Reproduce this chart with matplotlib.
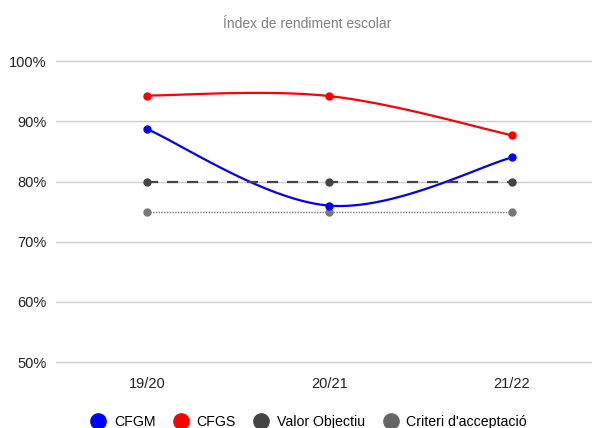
import numpy as np
import matplotlib.pyplot as plt
from matplotlib.lines import Line2D

cursos = ['19/20', '20/21', '21/22']
cfgm = [88.7, 76.0, 84.0]
cfgs = [94.3, 94.2, 87.7]
valor_objectiu = [80, 80, 80]
criteri = [75, 75, 75]

plt.rcParams['font.family'] = ['Liberation Sans', 'DejaVu Sans']


def smooth(x, y, n=40, k=0.35):
    # corba tipus google charts (bezier amb punts de control segons els veins)
    x = np.asarray(x, float)
    y = np.asarray(y, float)
    xs, ys = [], []
    for i in range(len(x) - 1):
        p0 = np.array([x[max(i - 1, 0)], y[max(i - 1, 0)]])
        p1 = np.array([x[i], y[i]])
        p2 = np.array([x[i + 1], y[i + 1]])
        p3 = np.array([x[min(i + 2, len(x) - 1)], y[min(i + 2, len(x) - 1)]])
        c1 = p1 + (p2 - p0) * k / 2
        c2 = p2 - (p3 - p1) * k / 2
        t = np.linspace(0, 1, n)[:, None]
        b = (1 - t) ** 3 * p1 + 3 * (1 - t) ** 2 * t * c1 + 3 * (1 - t) * t ** 2 * c2 + t ** 3 * p2
        xs.extend(b[:, 0])
        ys.extend(b[:, 1])
    return xs, ys


fig = plt.figure(figsize=(5.92, 4.28), dpi=100)
ax = fig.add_axes([0.0946, 0.154, 0.9054, 0.703])

x = np.arange(len(cursos))
for vals, col in [(cfgm, '#0000ff'), (cfgs, '#ff0000')]:
    sx, sy = smooth(x, vals)
    ax.plot(sx, sy, color=col, lw=1.6, zorder=3)
    ax.plot(x, vals, 'o', color=col, ms=5, zorder=4)

ax.plot(x, valor_objectiu, color='#444444', lw=1.6, ls=(0, (5, 4)), marker='o', ms=5, zorder=3)
ax.plot(x, criteri, color='#777777', lw=1.0, ls=(0, (1, 1)), marker='o', ms=5, zorder=3)

ax.set_xlim(-0.5, 2.44)
ax.set_ylim(50, 100)
ax.set_yticks(range(50, 101, 10))
ax.set_yticklabels([f'{v}%' for v in range(50, 101, 10)])
ax.set_xticks(x)
ax.set_xticklabels(cursos)
ax.grid(axis='y', color='#cccccc', lw=1)
for gl in ax.get_ygridlines():
    gl.set_clip_on(False)
ax.set_axisbelow(True)
for s in ax.spines.values():
    s.set_visible(False)
ax.tick_params(length=0, labelsize=10.5, colors='#222222')
ax.tick_params(axis='y', pad=7)
ax.tick_params(axis='x', pad=11)

fig.text(0.519, 0.945, 'Índex de rendiment escolar', ha='center', va='center',
         fontsize=10, color='#808080')

handles = [Line2D([], [], ls='', marker='o', ms=11, color=c)
           for c in ['#0000ff', '#ff0000', '#444444', '#666666']]
fig.legend(handles, ['CFGM', 'CFGS', 'Valor Objectiu', "Criteri d'acceptació"],
           loc='center', bbox_to_anchor=(0.522, 0.015), ncol=4, frameon=False,
           fontsize=10.2, handletextpad=0.6, columnspacing=1.3, handlelength=1)

fig.savefig('out.png', dpi=100)
